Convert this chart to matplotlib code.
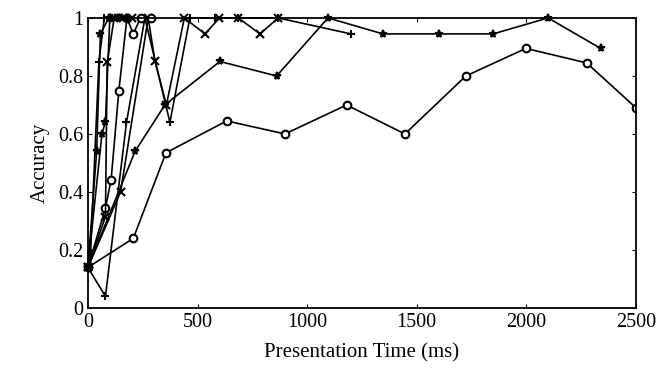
import matplotlib
matplotlib.use("Agg")
import matplotlib.pyplot as plt
from matplotlib.ticker import FuncFormatter

plt.rcParams['font.family'] = ['Liberation Serif', 'DejaVu Serif']

# presentation time (ms) and accuracy per condition
t1 = [0, 207, 356, 633, 899, 1180, 1446, 1724, 1998, 2275, 2500]
a1 = [0.14, 0.24, 0.535, 0.645, 0.60, 0.70, 0.60, 0.80, 0.895, 0.845, 0.69]

t2 = [0, 215, 351, 602, 861, 1095, 1346, 1601, 1848, 2099, 2339]
a2 = [0.14, 0.54, 0.70, 0.85, 0.80, 1.0, 0.945, 0.945, 0.945, 1.0, 0.895]

t3 = [0, 80, 176, 260, 374, 465, 579, 686, 868, 1200]
a3 = [0.14, 0.04, 0.64, 1.0, 0.64, 1.0, 1.0, 1.0, 1.0, 0.945]

t4 = [0, 149, 275, 306, 358, 440, 534, 600, 686, 785, 868]
a4 = [0.14, 0.40, 1.0, 0.85, 0.70, 1.0, 0.945, 1.0, 1.0, 0.945, 1.0]

t5 = [0, 80, 106, 141, 178, 207, 240, 290]
a5 = [0.14, 0.344, 0.443, 0.748, 1.0, 0.945, 1.0, 1.0]

t6 = [0, 40, 57, 95, 125, 155]
a6 = [0.14, 0.54, 0.945, 1.0, 1.0, 1.0]

t7 = [0, 12, 50, 75, 110, 145]
a7 = [0.14, 0.19, 0.847, 1.0, 1.0, 1.0]

t8 = [0, 80, 88, 120, 160, 200]
a8 = [0.14, 0.315, 0.847, 1.0, 1.0, 1.0]

t9 = [0, 64, 80, 100, 140, 180]
a9 = [0.14, 0.60, 0.642, 1.0, 1.0, 1.0]

series = [(t1, a1, 'o'), (t2, a2, '*'), (t3, a3, '+'), (t4, a4, 'x'),
          (t5, a5, 'o'), (t6, a6, '*'), (t7, a7, '+'), (t8, a8, 'x'),
          (t9, a9, '*')]

fig = plt.figure(figsize=(6.56, 3.74), dpi=100)
ax = fig.add_axes([0.134, 0.1765, 0.8355, 0.7755])

for i, (t, a, m) in enumerate(series):
    ax.plot(t, a, color='black', lw=1.2, marker=m, ms=5.5, mew=1.5,
            mfc='white' if m == 'o' else 'black', mec='black',
            clip_on=(i == 0))

ax.set_xlim(0, 2500)
ax.set_ylim(0, 1)
ax.set_xticks(range(0, 2501, 500))
ax.set_yticks([0, 0.2, 0.4, 0.6, 0.8, 1])
ax.yaxis.set_major_formatter(FuncFormatter(lambda v, p: '%g' % v))
ax.tick_params(direction='in', length=3, labelsize=14.5, top=True, right=True)
for s in ax.spines.values():
    s.set_linewidth(1.3)

ax.set_xlabel('Presentation Time (ms)', fontsize=15, labelpad=8)
ax.set_ylabel('Accuracy', fontsize=15, labelpad=6)

fig.savefig('out.png', dpi=100)
